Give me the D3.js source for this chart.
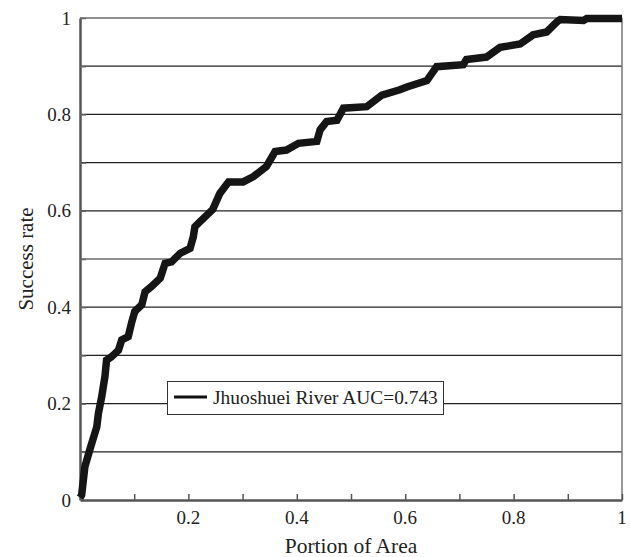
<!DOCTYPE html>
<html>
<head>
<meta charset="utf-8">
<script src="https://cdn.jsdelivr.net/npm/d3@7"></script>
<style>
body { margin: 0; background: #fff; }
text { font-family: "Liberation Serif", "Times New Roman", serif; fill: #222; }
</style>
</head>
<body>
<div id="viz"></div>
<script>
var w = 630,
	h = 557,
	plot_left = 80,
	plot_right = 622,
	plot_top = 18,
	plot_bottom = 500;

// curve
var portion_area = [0, 0.003, 0.009, 0.018, 0.031, 0.034, 0.040, 0.046, 0.049, 0.058, 0.071, 0.077, 0.089, 0.095, 0.101,
	0.114, 0.120, 0.132, 0.148, 0.157, 0.169, 0.185, 0.203, 0.209, 0.212, 0.221, 0.234, 0.245, 0.258, 0.274, 0.301,
	0.320, 0.344, 0.360, 0.381, 0.403, 0.437, 0.443, 0.455, 0.474, 0.486, 0.529, 0.557, 0.590, 0.603, 0.640, 0.658,
	0.707, 0.713, 0.750, 0.775, 0.812, 0.836, 0.861, 0.880, 0.886, 0.929, 0.935, 1.0];
var success_rate = [0.005, 0.010, 0.069, 0.104, 0.152, 0.180, 0.214, 0.256, 0.290, 0.297, 0.311, 0.332, 0.339, 0.367, 0.391,
	0.405, 0.432, 0.443, 0.460, 0.491, 0.494, 0.512, 0.522, 0.546, 0.567, 0.577, 0.591, 0.603, 0.636, 0.660, 0.660,
	0.671, 0.692, 0.723, 0.726, 0.740, 0.744, 0.768, 0.785, 0.788, 0.813, 0.816, 0.840, 0.851, 0.857, 0.870, 0.899,
	0.903, 0.914, 0.919, 0.939, 0.946, 0.965, 0.971, 0.992, 0.997, 0.995, 0.999, 0.999];

var y_labels = [0, 0.2, 0.4, 0.6, 0.8, 1];
var x_labels = [0.2, 0.4, 0.6, 0.8, 1];
var grid_values = [0.1, 0.2, 0.3, 0.4, 0.5, 0.6, 0.7, 0.8, 0.9, 1];
var legend_label = 'Jhuoshuei River AUC=0.743';

var x = d3.scaleLinear().domain([0, 1]).range([plot_left, plot_right]);
var y = d3.scaleLinear().domain([0, 1]).range([plot_bottom, plot_top]);

var svg = d3.select('#viz').append('svg')
	.attr('width', w)
	.attr('height', h);

//gridlines
svg.append('g').selectAll('line')
	.data(grid_values)
	.enter().append('line')
		.attr('x1', plot_left)
		.attr('x2', plot_right)
		.attr('y1', function(d){ return y(d); })
		.attr('y2', function(d){ return y(d); })
		.attr('stroke', '#222')
		.attr('stroke-width', 1.2);

//right border
svg.append('line')
	.attr('x1', plot_right).attr('x2', plot_right)
	.attr('y1', plot_top).attr('y2', plot_bottom)
	.attr('stroke', '#777')
	.attr('stroke-width', 1.5);

//x axis, ticks pointing inside
var xAxis = d3.axisBottom(x)
	.tickValues(d3.range(0, 1.01, 0.1))
	.tickSizeInner(-6)
	.tickSizeOuter(0)
	.tickFormat('');
var gx = svg.append('g')
	.attr('transform', 'translate(0,' + plot_bottom + ')')
	.call(xAxis);
gx.select('.domain').attr('stroke', '#555').attr('stroke-width', 2.5);
gx.selectAll('.tick line').attr('stroke', '#555').attr('stroke-width', 1.5);

svg.append('g').selectAll('text')
	.data(x_labels)
	.enter().append('text')
		.attr('x', function(d){ return x(d); })
		.attr('y', 524)
		.attr('text-anchor', 'middle')
		.style('font-size', '19px')
		.text(function(d){ return d3.format('~g')(d); });

//y axis
var yAxis = d3.axisLeft(y)
	.tickValues(grid_values)
	.tickSizeInner(-6)
	.tickSizeOuter(0)
	.tickFormat('');
var gy = svg.append('g')
	.attr('transform', 'translate(' + plot_left + ',0)')
	.call(yAxis);
gy.select('.domain').attr('stroke', '#555').attr('stroke-width', 2.5);
gy.selectAll('.tick line').attr('stroke', '#666').attr('stroke-width', 1.5);

svg.append('g').selectAll('text')
	.data(y_labels)
	.enter().append('text')
		.attr('x', 71)
		.attr('y', function(d){ return y(d) + 6.5; })
		.attr('text-anchor', 'end')
		.style('font-size', '19px')
		.text(function(d){ return d3.format('~g')(d); });

//axis titles
svg.append('text')
	.attr('x', (plot_left + plot_right) / 2)
	.attr('y', 553)
	.attr('text-anchor', 'middle')
	.style('font-size', '21.5px')
	.text('Portion of Area');

svg.append('text')
	.attr('transform', 'translate(33,259) rotate(-90)')
	.attr('text-anchor', 'middle')
	.style('font-size', '21px')
	.text('Success rate');

//curve
var points = portion_area.map(function(d, i){ return [d, success_rate[i]]; });
var line = d3.line()
	.x(function(d){ return x(d[0]); })
	.y(function(d){ return y(d[1]); });

svg.append('path')
	.datum(points)
	.attr('d', line)
	.attr('fill', 'none')
	.attr('stroke', '#151515')
	.attr('stroke-width', 7.5)
	.attr('stroke-linejoin', 'miter');

//legend
var legend = svg.append('g');
legend.append('rect')
	.attr('x', 167.5)
	.attr('y', 381.5)
	.attr('width', 276)
	.attr('height', 33)
	.attr('fill', '#fff')
	.attr('stroke', '#333')
	.attr('stroke-width', 1);
legend.append('line')
	.attr('x1', 174).attr('x2', 207)
	.attr('y1', 397).attr('y2', 397)
	.attr('stroke', '#111')
	.attr('stroke-width', 3);
legend.append('text')
	.attr('x', 213)
	.attr('y', 403.5)
	.style('font-size', '19.4px')
	.text(legend_label);
</script>
</body>
</html>
